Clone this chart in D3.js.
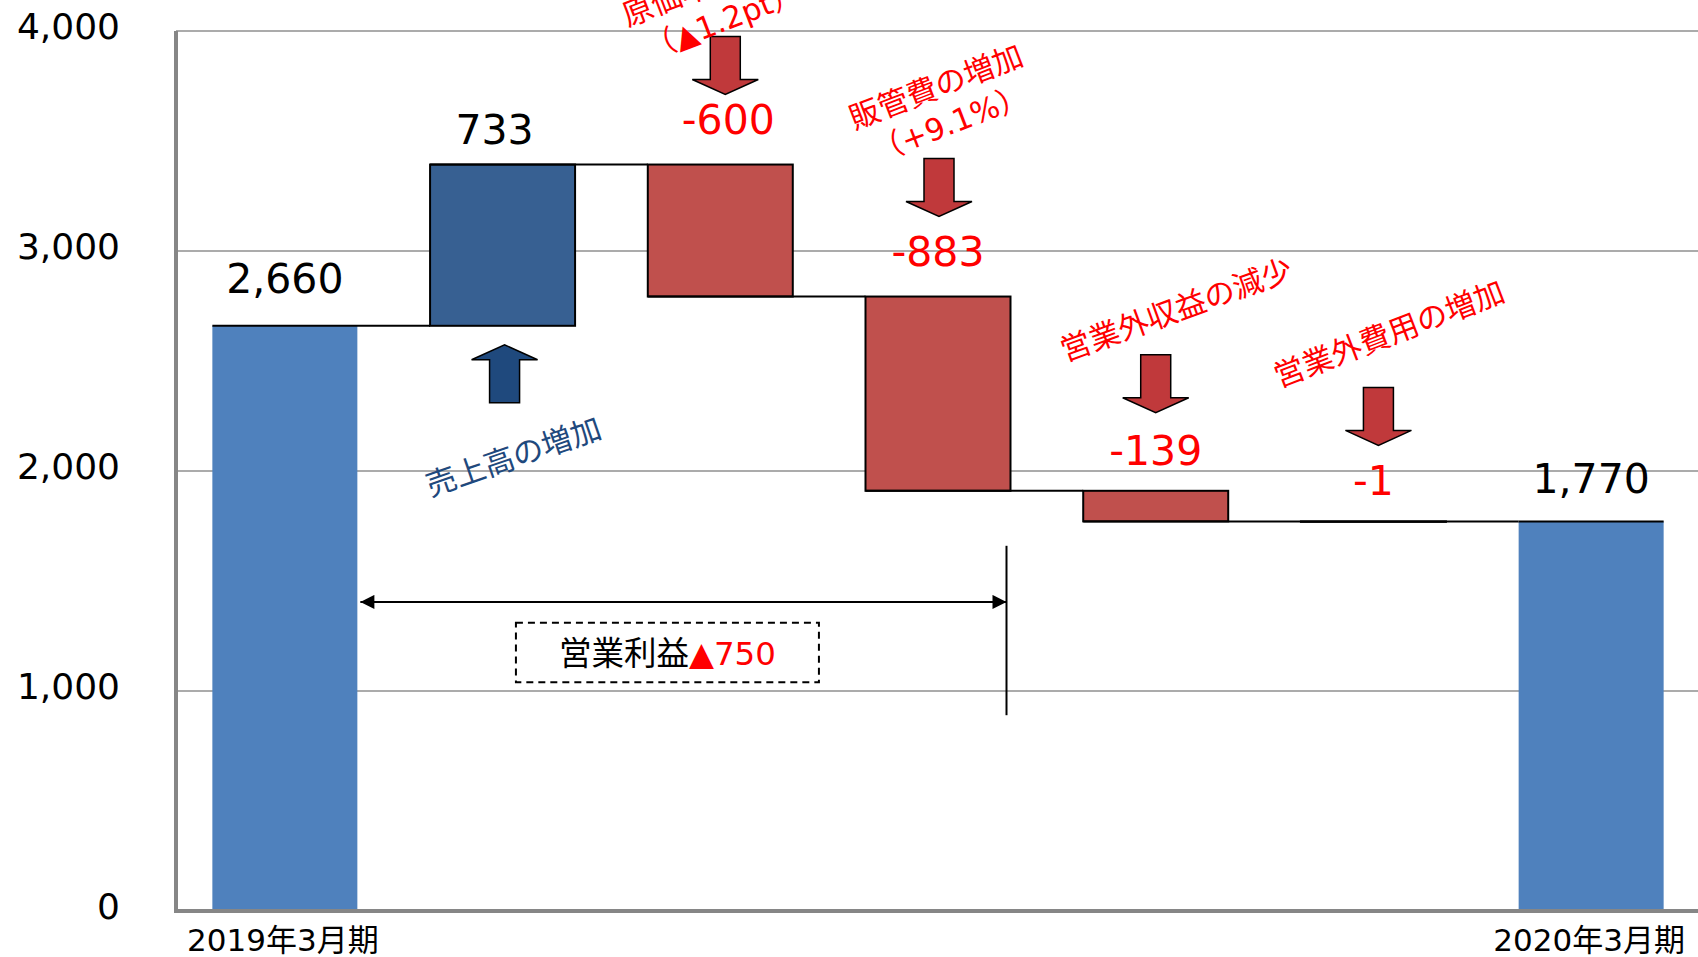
<!DOCTYPE html>
<html>
<head>
<meta charset="utf-8">
<script src="https://cdn.jsdelivr.net/npm/d3@7"></script>
<style>
  html, body { margin: 0; padding: 0; background: #fff; }
  svg { display: block; }
  text { font-family: "DejaVu Sans", "Noto Sans CJK JP", sans-serif; }
</style>
</head>
<body>
<svg id="chart" width="1698" height="957"></svg>
<script>
// ---------- data ----------
const categories = ["2019年3月期", "売上高", "原価", "販管費", "営業外収益", "営業外費用", "2020年3月期"];
const tickLabels = ["2019年3月期", "", "", "", "", "", "2020年3月期"];
const values = [2660, 733, -600, -883, -139, -1, 1770];
const kinds = ["total", "delta", "delta", "delta", "delta", "delta", "total"];
const yTicks = [0, 1000, 2000, 3000, 4000];

// ---------- layout ----------
const W = 1698, H = 957;
const svg = d3.select("#chart");
const x = d3.scaleBand().domain(categories).range([176, 1700]).paddingInner(0.334).paddingOuter(0.167);
const y = d3.scaleLinear().domain([0, 4000]).range([911, 31]);
const fmt = d3.formatLocale({decimal: ".", thousands: ",", grouping: [3], currency: ["", ""], minus: "-"}).format(",");

// waterfall start/end
let run = 0;
const bars = categories.map((c, i) => {
  let s, e;
  if (kinds[i] === "total") { s = 0; e = values[i]; run = values[i]; }
  else { s = run; e = run + values[i]; run = e; }
  return {cat: c, i, v: values[i], kind: kinds[i], s, e, lo: Math.min(s, e), hi: Math.max(s, e)};
});

const colTotal = "#4F81BD", colUp = "#376092", colDown = "#C0504D";

// gridlines
svg.append("g").selectAll("line").data(yTicks.filter(d => d > 0)).join("line")
  .attr("x1", 176).attr("x2", W).attr("y1", d => y(d)).attr("y2", d => y(d))
  .attr("stroke", "#8f8f8f").attr("stroke-width", 1.6);

// bars
svg.append("g").selectAll("rect").data(bars).join("rect")
  .attr("x", d => x(d.cat)).attr("width", x.bandwidth())
  .attr("y", d => y(d.hi)).attr("height", d => Math.max(0.5, y(d.lo) - y(d.hi)))
  .attr("fill", d => d.kind === "total" ? colTotal : (d.v > 0 ? colUp : colDown))
  .attr("stroke", d => d.kind === "total" ? "none" : "#000")
  .attr("stroke-width", 2);

// connectors
const conn = svg.append("g").attr("stroke", "#000").attr("stroke-width", 2);
bars.forEach((d, i) => {
  if (i < bars.length - 1) {
    conn.append("line").attr("x1", x(d.cat)).attr("x2", x(bars[i + 1].cat))
      .attr("y1", y(d.e)).attr("y2", y(d.e));
  } else {
    conn.append("line").attr("x1", x(d.cat)).attr("x2", x(d.cat) + x.bandwidth())
      .attr("y1", y(d.e)).attr("y2", y(d.e));
  }
});

// axes
svg.append("line").attr("x1", 176).attr("x2", 176).attr("y1", y(4000)).attr("y2", y(0) + 2)
  .attr("stroke", "#868686").attr("stroke-width", 4);
svg.append("line").attr("x1", 174).attr("x2", W).attr("y1", y(0)).attr("y2", y(0))
  .attr("stroke", "#868686").attr("stroke-width", 4);

const yAxis = d3.axisLeft(y).tickValues(yTicks).tickFormat(fmt).tickSize(0).tickPadding(56);
const ya = svg.append("g").attr("transform", "translate(176,0)").call(yAxis);
ya.select(".domain").remove();
ya.selectAll("text").attr("font-size", 36).attr("fill", "#000").attr("dy", "0.2em")
  .attr("font-family", "DejaVu Sans");

svg.append("g").selectAll("text").data(categories).join("text")
  .attr("x", d => x(d) + x.bandwidth() / 2 - 2).attr("y", 951)
  .attr("text-anchor", "middle").attr("font-size", 31).attr("fill", "#000")
  .text((d, i) => tickLabels[i]);

// value labels
const labelDy = [-33, -21, -31, -31, -26, -26, -29];
const labelDx = [0, -8, 8, 0, 0, 0, 0];
svg.append("g").selectAll("text").data(bars).join("text")
  .attr("x", d => x(d.cat) + x.bandwidth() / 2 + labelDx[d.i])
  .attr("y", d => y(d.hi) + labelDy[d.i])
  .attr("text-anchor", "middle").attr("font-size", 41)
  .attr("fill", d => d.kind === "delta" && d.v < 0 ? "#FF0000" : "#000")
  .text(d => fmt(d.v));

// ---------- annotations ----------
function arrowPath(cx, tip, dir) {
  // dir = 1 -> down arrow, -1 -> up arrow
  const L = 58, hh = 15, sw = 15, hw = 33;
  const p = [[cx - sw, tip - dir * L], [cx + sw, tip - dir * L], [cx + sw, tip - dir * hh],
             [cx + hw, tip - dir * hh], [cx, tip], [cx - hw, tip - dir * hh], [cx - sw, tip - dir * hh]];
  return "M" + p.map(q => q.join(",")).join("L") + "Z";
}
const downArrows = [{bar: 2, dx: 5, off: -70}, {bar: 3, dx: 1, off: -80}, {bar: 4, dx: 0, off: -78}, {bar: 5, dx: 5, off: -76}];
downArrows.forEach(a => {
  const b = bars[a.bar];
  svg.append("path").attr("d", arrowPath(x(b.cat) + x.bandwidth() / 2 + a.dx, y(b.hi) + a.off, 1))
    .attr("fill", "#C0393B").attr("stroke", "#000").attr("stroke-width", 1.5);
});
{
  const b = bars[1];
  svg.append("path").attr("d", arrowPath(x(b.cat) + x.bandwidth() / 2 + 2, y(b.lo) + 19, -1))
    .attr("fill", "#1F497D").attr("stroke", "#000").attr("stroke-width", 1.5);
}

const notes = [
  {x: 713, y: -6, a: -21, lines: ["原価率の上昇", "（▲1.2pt）"], c: "#FF0000"},
  {x: 940, y: 97, a: -21, lines: ["販管費の増加", "（+9.1%）"], c: "#FF0000"},
  {x: 517, y: 467, a: -19, lines: ["売上高の増加"], c: "#1F497D"},
  {x: 1180, y: 320, a: -20, lines: ["営業外収益の減少"], c: "#FF0000"},
  {x: 1393, y: 344, a: -21, lines: ["営業外費用の増加"], c: "#FF0000"}
];
notes.forEach(n => {
  const t = svg.append("text").attr("transform", `translate(${n.x},${n.y}) rotate(${n.a})`)
    .attr("text-anchor", "middle").attr("font-size", 30.5).attr("fill", n.c);
  n.lines.forEach((l, k) => t.append("tspan").attr("x", 0).attr("dy", k === 0 ? 0 : 39).text(l));
});

// operating profit bracket
const defs = svg.append("defs");
defs.append("marker").attr("id", "ah").attr("viewBox", "0 0 10 10").attr("refX", 10).attr("refY", 5)
  .attr("markerWidth", 8).attr("markerHeight", 7).attr("markerUnits", "strokeWidth").attr("orient", "auto-start-reverse")
  .append("path").attr("d", "M0,0L10,5L0,10Z").attr("fill", "#000");
const bracket = {from: 0, to: 3, level: 1405, top: 1660, bottom: 890, boxTop: 1310, boxBottom: 1040};
const bx1 = x(categories[bracket.from]) + x.bandwidth() + 3;
const bx2 = x(categories[bracket.to]) + x.bandwidth() - 4;
svg.append("line").attr("x1", bx1).attr("x2", bx2).attr("y1", y(bracket.level)).attr("y2", y(bracket.level))
  .attr("stroke", "#000").attr("stroke-width", 2)
  .attr("marker-start", "url(#ah)").attr("marker-end", "url(#ah)");
svg.append("line").attr("x1", bx2).attr("x2", bx2).attr("y1", y(bracket.top)).attr("y2", y(bracket.bottom))
  .attr("stroke", "#000").attr("stroke-width", 2);
const boxCx = (bx1 + bx2) / 2 - 16, boxW = 303;
svg.append("rect").attr("x", boxCx - boxW / 2).attr("width", boxW)
  .attr("y", y(bracket.boxTop)).attr("height", y(bracket.boxBottom) - y(bracket.boxTop))
  .attr("fill", "#fff").attr("stroke", "#000").attr("stroke-width", 2).attr("stroke-dasharray", "7,5");
const bt = svg.append("text").attr("x", boxCx).attr("y", (y(bracket.boxTop) + y(bracket.boxBottom)) / 2 + 12)
  .attr("text-anchor", "middle").attr("font-size", 32.5);
bt.append("tspan").attr("fill", "#000").text("営業利益");
bt.append("tspan").attr("fill", "#FF0000").text("▲750");
</script>
</body>
</html>
